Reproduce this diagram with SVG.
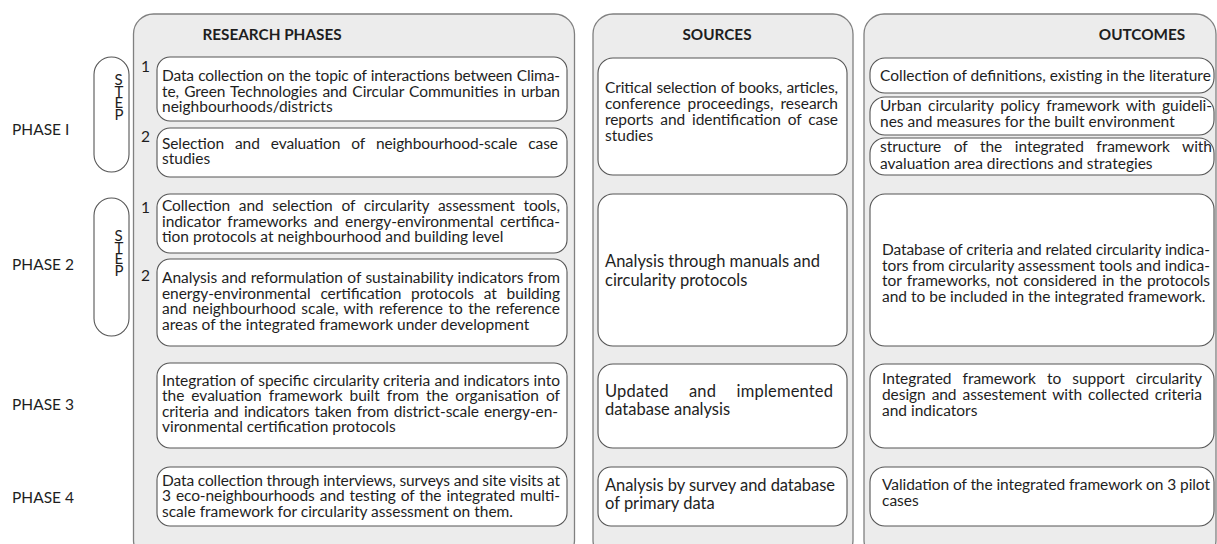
<svg xmlns="http://www.w3.org/2000/svg" width="1217" height="544" viewBox="0 0 1217 544">
  <style>
    .panel { fill: #ececec; stroke: #808080; stroke-width: 1.3; }
    .box { fill: #ffffff; stroke: #555555; stroke-width: 1.1; }
    .pill { fill: #ffffff; stroke: #555555; stroke-width: 1.1; }
    text { font-family: Lato, "Liberation Sans", sans-serif; fill: #1e1e1e; }
    .hd { font-size: 15.3px; font-weight: bold; text-anchor: middle; }
    .tx { font-size: 15.5px; }
    .big { font-size: 16.5px; }
    .lbl { font-size: 15.5px; }
    .num { font-size: 15.5px; }
    .step { font-size: 15px; }
  </style>

  <rect width="1217" height="544" fill="#ffffff"/>

  <!-- column panels -->
  <g id="panel-research">
    <rect class="panel" x="133.5" y="14" width="441" height="546" rx="20"/>
    <text class="hd" x="272" y="40">RESEARCH PHASES</text>
  </g>
  <g id="panel-sources">
    <rect class="panel" x="593" y="14" width="260" height="546" rx="20"/>
    <text class="hd" x="717" y="40">SOURCES</text>
  </g>
  <g id="panel-outcomes">
    <rect class="panel" x="864" y="14" width="352" height="546" rx="20"/>
    <text class="hd" x="1142" y="40">OUTCOMES</text>
  </g>

  <!-- phase labels -->
  <g id="phase-labels">
    <text class="lbl" x="12" y="135">PHASE I</text>
    <text class="lbl" x="12" y="270">PHASE 2</text>
    <text class="lbl" x="12" y="410">PHASE 3</text>
    <text class="lbl" x="12" y="503">PHASE 4</text>
  </g>

  <!-- step pills -->
  <g id="step-phase1">
    <rect class="pill" x="94" y="57" width="35" height="115" rx="17.5"/>
    <text class="step"><tspan x="114.5" y="85">S</tspan><tspan x="114.5" y="96.7">T</tspan><tspan x="114.5" y="108.3">E</tspan><tspan x="114.5" y="120">P</tspan></text>
  </g>
  <g id="step-phase2">
    <rect class="pill" x="94" y="198" width="35" height="138" rx="17.5"/>
    <text class="step"><tspan x="114.5" y="241">S</tspan><tspan x="114.5" y="252.7">T</tspan><tspan x="114.5" y="264.3">E</tspan><tspan x="114.5" y="276">P</tspan></text>
  </g>

  <!-- step numbers -->
  <g id="step-numbers">
    <text class="num" x="141" y="72">1</text>
    <text class="num" x="141" y="142">2</text>
    <text class="num" x="141" y="213">1</text>
    <text class="num" x="141" y="281">2</text>
  </g>

  <!-- research phases -->
  <g id="rp-1-1">
    <rect class="box" x="157" y="57" width="410" height="64" rx="13"/>
    <text class="tx" x="162" y="81" style="word-spacing:0.5px" textLength="398" lengthAdjust="spacing">Data collection on the topic of interactions between Clima-</text>
    <text class="tx" x="162" y="96.5" style="word-spacing:1.2px" textLength="398" lengthAdjust="spacing">te, Green Technologies and Circular Communities in urban</text>
    <text class="tx" x="162" y="112">neighbourhoods/districts</text>
  </g>
  <g id="rp-1-2">
    <rect class="box" x="157" y="128" width="410" height="49" rx="13"/>
    <text class="tx" x="162" y="148.5" style="word-spacing:7.2px" textLength="396" lengthAdjust="spacing">Selection and evaluation of neighbourhood-scale case</text>
    <text class="tx" x="162" y="164">studies</text>
  </g>
  <g id="rp-2-1">
    <rect class="box" x="157" y="194" width="410" height="59" rx="13"/>
    <text class="tx" x="162" y="211" style="word-spacing:4.9px" textLength="398" lengthAdjust="spacing">Collection and selection of circularity assessment tools,</text>
    <text class="tx" x="162" y="226.5" style="word-spacing:2.6px" textLength="398" lengthAdjust="spacing">indicator frameworks and energy-environmental certifica-</text>
    <text class="tx" x="162" y="242">tion protocols at neighbourhood and building level</text>
  </g>
  <g id="rp-2-2">
    <rect class="box" x="157" y="259" width="410" height="87" rx="13"/>
    <text class="tx" x="162" y="283" style="word-spacing:0.5px" textLength="398" lengthAdjust="spacing">Analysis and reformulation of sustainability indicators from</text>
    <text class="tx" x="162" y="298.5" style="word-spacing:5.9px" textLength="398" lengthAdjust="spacing">energy-environmental certification protocols at building</text>
    <text class="tx" x="162" y="314" style="word-spacing:1.5px" textLength="398" lengthAdjust="spacing">and neighbourhood scale, with reference to the reference</text>
    <text class="tx" x="162" y="329.5">areas of the integrated framework under development</text>
  </g>
  <g id="rp-3">
    <rect class="box" x="157" y="363" width="410" height="85" rx="13"/>
    <text class="tx" x="162" y="385.5" style="word-spacing:0.4px" textLength="398" lengthAdjust="spacing">Integration of specific circularity criteria and indicators into</text>
    <text class="tx" x="162" y="401" style="word-spacing:3px" textLength="398" lengthAdjust="spacing">the evaluation framework built from the organisation of</text>
    <text class="tx" x="162" y="416.5" style="word-spacing:1.3px" textLength="396" lengthAdjust="spacing">criteria and indicators taken from district-scale energy-en-</text>
    <text class="tx" x="162" y="432">vironmental certification protocols</text>
  </g>
  <g id="rp-4">
    <rect class="box" x="157" y="467" width="410" height="59" rx="13"/>
    <text class="tx" x="162" y="485.5" textLength="398" lengthAdjust="spacing">Data collection through interviews, surveys and site visits at</text>
    <text class="tx" x="162" y="501" style="word-spacing:1.2px" textLength="398" lengthAdjust="spacing">3 eco-neighbourhoods and testing of the integrated multi-</text>
    <text class="tx" x="162" y="516.5">scale framework for circularity assessment on them.</text>
  </g>

  <!-- sources -->
  <g id="src-1">
    <rect class="box" x="598" y="58" width="249" height="117" rx="15"/>
    <text class="tx" x="605" y="93" style="word-spacing:0.4px" textLength="233" lengthAdjust="spacing">Critical selection of books, articles,</text>
    <text class="tx" x="605" y="109" style="word-spacing:3px" textLength="233" lengthAdjust="spacing">conference proceedings, research</text>
    <text class="tx" x="605" y="125" style="word-spacing:3px" textLength="233" lengthAdjust="spacing">reports and identification of case</text>
    <text class="tx" x="605" y="141">studies</text>
  </g>
  <g id="src-2">
    <rect class="box" x="598" y="194" width="249" height="152" rx="15"/>
    <text class="big" x="605" y="267">Analysis through manuals and</text>
    <text class="big" x="605" y="286">circularity protocols</text>
  </g>
  <g id="src-3">
    <rect class="box" x="598" y="364" width="249" height="84" rx="15"/>
    <text class="big" x="605" y="397" style="word-spacing:16px" textLength="228" lengthAdjust="spacing">Updated and implemented</text>
    <text class="big" x="605" y="415">database analysis</text>
  </g>
  <g id="src-4">
    <rect class="box" x="598" y="467" width="249" height="59" rx="13"/>
    <text class="big" x="605" y="491" textLength="230" lengthAdjust="spacing">Analysis by survey and database</text>
    <text class="big" x="605" y="509">of primary data</text>
  </g>

  <!-- outcomes -->
  <g id="out-1">
    <rect class="box" x="870" y="58" width="344" height="35" rx="15"/>
    <text class="tx" x="880" y="81">Collection of definitions, existing in the literature</text>
  </g>
  <g id="out-2">
    <rect class="box" x="870" y="97" width="344" height="38" rx="15"/>
    <text class="tx" x="880" y="111" style="word-spacing:2.7px" textLength="332" lengthAdjust="spacing">Urban circularity policy framework with guideli-</text>
    <text class="tx" x="880" y="127">nes and measures for the built environment</text>
  </g>
  <g id="out-3">
    <rect class="box" x="870" y="138" width="344" height="37" rx="15"/>
    <text class="tx" x="880" y="152" style="word-spacing:8.6px" textLength="332" lengthAdjust="spacing">structure of the integrated framework with</text>
    <text class="tx" x="880" y="168.5">avaluation area directions and strategies</text>
  </g>
  <g id="out-4">
    <rect class="box" x="870" y="194" width="344" height="152" rx="15"/>
    <text class="tx" x="882" y="255" textLength="328" lengthAdjust="spacing">Database of criteria and related circularity indica-</text>
    <text class="tx" x="882" y="270.5" textLength="328" lengthAdjust="spacing">tors from circularity assessment tools and indica-</text>
    <text class="tx" x="882" y="286" style="word-spacing:1.2px" textLength="328" lengthAdjust="spacing">tor frameworks, not considered in the protocols</text>
    <text class="tx" x="882" y="301.5">and to be included in the integrated framework.</text>
  </g>
  <g id="out-5">
    <rect class="box" x="870" y="364" width="344" height="84" rx="15"/>
    <text class="tx" x="882" y="384" style="word-spacing:7.2px" textLength="320" lengthAdjust="spacing">Integrated framework to support circularity</text>
    <text class="tx" x="882" y="400" style="word-spacing:2.1px" textLength="320" lengthAdjust="spacing">design and assestement with collected criteria</text>
    <text class="tx" x="882" y="416">and indicators</text>
  </g>
  <g id="out-6">
    <rect class="box" x="870" y="467" width="344" height="59" rx="15"/>
    <text class="tx" x="882" y="490" textLength="328" lengthAdjust="spacing">Validation of the integrated framework on 3 pilot</text>
    <text class="tx" x="882" y="506">cases</text>
  </g>
</svg>
